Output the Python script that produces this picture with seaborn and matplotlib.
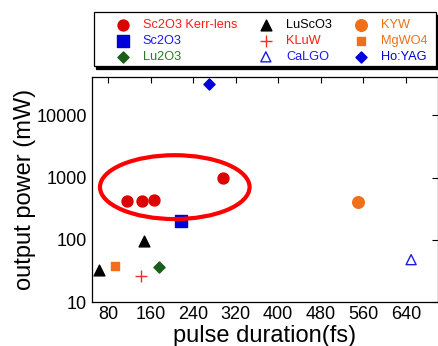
import matplotlib
matplotlib.use("Agg")
import matplotlib.pyplot as plt
import seaborn as sns
from matplotlib.patches import Ellipse, Rectangle

# data (pulse duration in fs, output power in mW)
kerr_fs = [115, 143, 166, 297]
kerr_mw = [420, 420, 440, 1000]
sc2o3_fs = [217]
sc2o3_mw = [200]
lu2o3_fs = [175]
lu2o3_mw = [36]
luscO3_fs = [63, 147]
luscO3_mw = [33, 97]
kluw_fs = [141]
kluw_mw = [26]
calgo_fs = [650]
calgo_mw = [48]
kyw_fs = [550]
kyw_mw = [410]
mgwo4_fs = [93]
mgwo4_mw = [38]
hoyag_fs = [270]
hoyag_mw = [32000]

x_ticks = [80, 160, 240, 320, 400, 480, 560, 640]
y_ticks = [10, 100, 1000, 10000]

sns.set_theme(style="white")
plt.rcParams['font.family'] = ['Liberation Sans', 'DejaVu Sans']

W, H = 439, 346
fig = plt.figure(figsize=(W / 100, H / 100), dpi=100)
ax = fig.add_axes([0.210, 0.127, 0.787, 0.650])

# (x, y, label, marker, size, face, edge, text colour)
series = [
    (kerr_fs, kerr_mw, "Sc2O3 Kerr-lens", "o", 62, "#dd0000", "#dd0000", "#ff1a1a"),
    (sc2o3_fs, sc2o3_mw, "Sc2O3", "s", 70, "#0000dd", "#0000dd", "#1a1aee"),
    (lu2o3_fs, lu2o3_mw, "Lu2O3", "D", 32, "#1a5e1a", "#1a5e1a", "#2a7a2a"),
    (luscO3_fs, luscO3_mw, "LuScO3", "^", 60, "black", "black", "black"),
    (kluw_fs, kluw_mw, "KLuW", "+", 80, "#ff2a2a", "#ff2a2a", "#ff1a1a"),
    (calgo_fs, calgo_mw, "CaLGO", "^", 52, "none", "#1a1aee", "#1a1aee"),
    (kyw_fs, kyw_mw, "KYW", "o", 70, "#f07018", "#f07018", "#f07018"),
    (mgwo4_fs, mgwo4_mw, "MgWO4", "s", 28, "#f07018", "#f07018", "#f07018"),
    (hoyag_fs, hoyag_mw, "Ho:YAG", "D", 32, "#0000dd", "#0000dd", "#0000dd"),
]

for xs, ys, lab, mk, s, fc, ec, tc in series:
    if mk == "+":
        sns.scatterplot(x=xs, y=ys, ax=ax, marker=mk, s=s, color=ec,
                        linewidth=1.0, label=lab)
    else:
        sns.scatterplot(x=xs, y=ys, ax=ax, marker=mk, s=s, facecolor=fc,
                        edgecolor=ec, linewidth=1.0, label=lab)

ax.set_yscale("log")
ax.set_xlim(50, 700)
ax.set_ylim(10, 41000)
ax.set_xticks(x_ticks)
ax.set_xticklabels([str(v) for v in x_ticks])
ax.set_yticks(y_ticks)
ax.set_yticklabels([str(v) for v in y_ticks])
ax.minorticks_off()
ax.tick_params(direction="in", length=4, width=0.8, color="black",
               top=True, right=True, labelsize=13, labelcolor="black")
ax.tick_params(axis="x", pad=3)
ax.tick_params(axis="y", pad=4)
for sp in ax.spines.values():
    sp.set_color("black")
    sp.set_linewidth(0.9)

ax.set_xlabel("pulse duration(fs)", fontsize=17, labelpad=1, color="black")
ax.set_ylabel("output power (mW)", fontsize=17, labelpad=0, color="black")

# highlight ring round the Kerr-lens points
ax.add_patch(Ellipse((0.239, 0.511), 0.433, 0.284, transform=ax.transAxes,
                     fill=False, edgecolor="#ff0000", linewidth=3, clip_on=False))

# legend box with a hard black shadow, drawn in figure pixels
bx0, bx1, by0, by1 = 94, 436, 12, 66
fig.add_artist(Rectangle(((bx0 + 2) / W, 1 - (by1 + 2.5) / H), (bx1 - bx0) / W,
                         (by1 - by0) / H, transform=fig.transFigure,
                         facecolor="black", edgecolor="black", lw=0.9))
fig.add_artist(Rectangle((bx0 / W, 1 - by1 / H), (bx1 - bx0) / W,
                         (by1 - by0) / H, transform=fig.transFigure,
                         facecolor="white", edgecolor="black", lw=0.9))

handles, labels = ax.get_legend_handles_labels()
if ax.get_legend() is not None:
    ax.get_legend().remove()
leg = fig.legend(handles, labels, loc="upper left", ncol=3,
                 bbox_to_anchor=(115 / W, 1 - 19.5 / H),
                 frameon=False, fontsize=9.2, handlelength=1.2,
                 handletextpad=0.97, handleheight=0.7,
                 labelspacing=0.3, borderpad=0, borderaxespad=0,
                 columnspacing=1.65)
leg.set_zorder(5)
for txt, item in zip(leg.get_texts(), series):
    txt.set_color(item[7])

fig.savefig("out.png", dpi=100)
